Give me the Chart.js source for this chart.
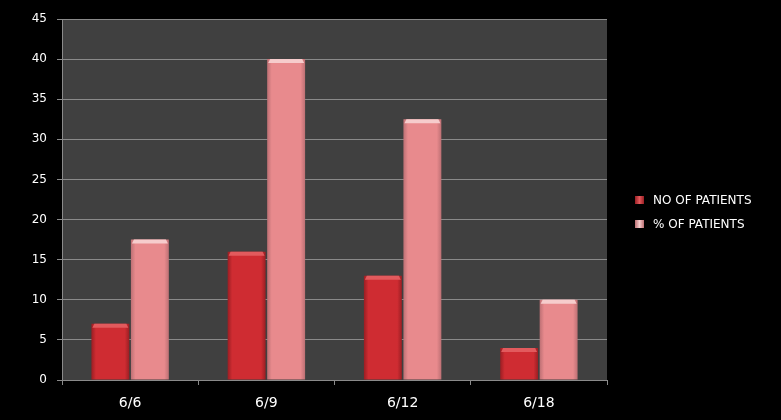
<!DOCTYPE html>
<html>
<head>
<meta charset="utf-8">
<style>
  html, body { margin: 0; padding: 0; background: #000; }
  #wrap { width: 781px; height: 420px; }
</style>
<script src="https://cdn.jsdelivr.net/npm/chart.js@4"></script>
</head>
<body>
<div id="wrap"><canvas id="chart" width="781" height="420"></canvas></div>
<script>
// patients per visit day, and share of the 40 patients
const days = ['6/6', '6/9', '6/12', '6/18'];
const patientCount = [7, 16, 13, 4];
const patientPct = [17.5, 40, 32.5, 10];
const yTicks = [0, 5, 10, 15, 20, 25, 30, 35, 40, 45];

const seriesNames = ['NO OF PATIENTS', '% OF PATIENTS'];
const seriesColors = ['#c8292e', '#e48a8d'];

// shading for the bars: darker edges, light middle, bright cap on top
const shades = [
  { edge: '#9a1e23', mid: '#cf2c32', cap: '#e25a5d' },
  { edge: '#bd7074', mid: '#e88a8d', cap: '#f6cccc' }
];

const plotBg = {
  id: 'plotBg',
  beforeDraw(chart) {
    const { ctx, chartArea: a } = chart;
    ctx.save();
    ctx.fillStyle = '#404040';
    ctx.fillRect(a.left, a.top, a.right - a.left, a.bottom - a.top);
    ctx.restore();
  }
};

const barShade = {
  id: 'barShade',
  beforeDatasetsDraw(chart) {
    const ctx = chart.ctx;
    chart.data.datasets.forEach((ds, di) => {
      const s = shades[di];
      chart.getDatasetMeta(di).data.forEach(bar => {
        const l = bar.x - bar.width / 2, r = bar.x + bar.width / 2;
        const g = ctx.createLinearGradient(l, 0, r, 0);
        g.addColorStop(0, s.edge);
        g.addColorStop(0.12, s.mid);
        g.addColorStop(0.5, s.mid);
        g.addColorStop(0.88, s.mid);
        g.addColorStop(1, s.edge);
        bar.options = Object.assign({}, bar.options, { backgroundColor: g });
      });
    });
  },
  afterDatasetsDraw(chart) {
    const ctx = chart.ctx;
    ctx.save();
    chart.data.datasets.forEach((ds, di) => {
      const s = shades[di];
      chart.getDatasetMeta(di).data.forEach(bar => {
        const l = bar.x - bar.width / 2;
        ctx.fillStyle = s.cap;
        ctx.beginPath();
        ctx.moveTo(l + 1, bar.y + 4);
        ctx.lineTo(l + 3, bar.y);
        ctx.lineTo(l + bar.width - 3, bar.y);
        ctx.lineTo(l + bar.width - 1, bar.y + 4);
        ctx.closePath();
        ctx.fill();
      });
    });
    ctx.restore();
  }
};

const sideLegend = {
  id: 'sideLegend',
  afterDraw(chart) {
    const ctx = chart.ctx;
    ctx.save();
    ctx.font = '12px "DejaVu Sans"';
    ctx.textBaseline = 'middle';
    chart.data.datasets.forEach((ds, i) => {
      const y = 200 + i * 24;
      const g = ctx.createLinearGradient(635, 0, 644, 0);
      g.addColorStop(0, shades[i].edge);
      g.addColorStop(0.5, shades[i].cap);
      g.addColorStop(1, shades[i].edge);
      ctx.fillStyle = g;
      ctx.fillRect(635, y - 4, 9, 8);
      ctx.fillStyle = '#ffffff';
      ctx.fillText(ds.label, 653, y + 1);
    });
    ctx.restore();
  }
};

new Chart(document.getElementById('chart'), {
  type: 'bar',
  data: {
    labels: days,
    datasets: [
      { label: seriesNames[0], data: patientCount, backgroundColor: () => seriesColors[0] },
      { label: seriesNames[1], data: patientPct, backgroundColor: () => seriesColors[1] }
    ]
  },
  options: {
    responsive: false,
    animation: false,
    layout: { padding: { left: 0, right: 174, top: 19, bottom: 0 } },
    datasets: { bar: { categoryPercentage: 0.58, barPercentage: 0.96 } },
    plugins: { legend: { display: false }, tooltip: { enabled: false } },
    scales: {
      x: {
        grid: { drawOnChartArea: false, drawTicks: true, tickLength: 5, color: '#8a8a8a', offset: true },
        border: { color: '#8a8a8a' },
        ticks: { color: '#ffffff', font: { family: 'DejaVu Sans', size: 14 }, padding: 10 },
        afterFit(scale) { scale.height = 40; }
      },
      y: {
        min: 0,
        max: 45,
        afterBuildTicks(scale) { scale.ticks = yTicks.map(v => ({ value: v })); },
        grid: { color: '#8a8a8a', tickLength: 5 },
        border: { color: '#8a8a8a' },
        ticks: { color: '#ffffff', font: { family: 'DejaVu Sans', size: 12 }, padding: 10 },
        afterFit(scale) { scale.width = 62; }
      }
    }
  },
  plugins: [plotBg, barShade, sideLegend]
});
</script>
</body>
</html>
